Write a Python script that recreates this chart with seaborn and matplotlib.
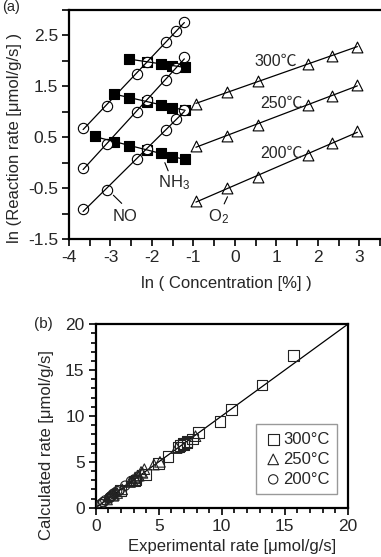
import numpy as np
import pandas as pd
import matplotlib
matplotlib.use("Agg")
import matplotlib.pyplot as plt
from matplotlib.ticker import MultipleLocator, FixedLocator
import seaborn as sns

# ---------------- data: panel (a) ----------------
ln_no = [-3.66, -3.09, -2.35, -2.11, -1.67, -1.43, -1.22]
no_300 = [0.68, 1.12, 1.75, 1.98, 2.38, 2.58, 2.76]
no_250 = [-0.11, 0.37, 1.00, 1.23, 1.63, 1.86, 2.07]
no_200 = [-0.92, -0.53, 0.08, 0.26, 0.64, 0.85, 1.03]

ln_nh3 = [-3.37, -2.91, -2.55, -2.13, -1.78, -1.51, -1.20]
nh3_300 = [None, None, 2.04, 1.98, 1.94, 1.90, 1.88]
nh3_250 = [None, 1.35, 1.28, 1.20, 1.14, 1.07, 1.04]
nh3_200 = [0.53, 0.41, 0.32, 0.24, 0.19, 0.12, 0.07]

ln_o2 = [-0.94, -0.18, 0.56, 1.77, 2.33, 2.95]
o2_300 = [1.16, 1.38, 1.61, 1.94, 2.10, 2.28]
o2_250 = [0.33, 0.53, 0.74, 1.14, 1.31, 1.53]
o2_200 = [-0.75, -0.50, -0.28, 0.15, 0.38, 0.63]

temp_labels_a = ["300\u2103", "250\u2103", "200\u2103"]

# ---------------- data: panel (b) ----------------
exp_300 = [1.97, 3.06, 5.75, 7.24, 10.8, 13.2, 15.7, 7.7, 7.24, 6.96, 6.69, 6.55,
           3.19, 3.97, 5.0, 6.96, 8.17, 9.85]
calc_300 = [1.9, 2.9, 5.6, 7.1, 10.7, 13.4, 16.6, 7.5, 7.2, 7.0, 6.8, 6.6,
            3.0, 3.6, 4.8, 6.9, 8.2, 9.4]
exp_250 = [0.90, 1.45, 2.72, 3.42, 5.10, 6.42, 7.92, 3.86, 3.60, 3.32, 3.13, 2.92, 2.83,
           1.39, 1.70, 2.10, 3.13, 3.71, 4.62]
calc_250 = [0.9, 1.4, 2.8, 3.5, 5.0, 6.5, 7.8, 4.2, 3.9, 3.5, 3.3, 3.0, 2.9,
            1.3, 1.6, 2.0, 3.2, 3.8, 4.7]
exp_200 = [0.40, 0.59, 1.08, 1.30, 1.90, 2.34, 2.80, 1.70, 1.51, 1.38, 1.27, 1.21, 1.13, 1.07,
           0.47, 0.61, 0.76, 1.16, 1.46, 1.88]
calc_200 = [0.4, 0.6, 1.1, 1.3, 1.9, 2.4, 2.9, 1.8, 1.6, 1.5, 1.3, 1.2, 1.1, 1.0,
            0.4, 0.6, 0.8, 1.2, 1.5, 1.9]
temp_labels_b = ["300°C", "250°C", "200°C"]

# ---------------- style ----------------
sns.set_style("ticks")
plt.rcParams["font.family"] = ["Liberation Sans", "Noto Sans CJK JP", "DejaVu Sans"]
plt.rcParams["axes.unicode_minus"] = False
plt.rcParams["mathtext.fontset"] = "custom"
plt.rcParams["mathtext.rm"] = "Liberation Sans"
plt.rcParams["mathtext.it"] = "Liberation Sans"

W, H = 381, 557
fig = plt.figure(figsize=(W / 100, H / 100), dpi=100)

ax_a = fig.add_axes([69 / W, 1 - 239 / H, (W - 69) / W, (239 - 10) / H])
ax_b = fig.add_axes([95.7 / W, 1 - 507.7 / H, 252 / W, 183.4 / H])

TICK_FS = 12.5
LAB_FS = 12
LW_SPINE = 1.6
MS = 55

def series_df(x, y):
    return pd.DataFrame({"x": x, "y": y}).dropna()

# ----- panel (a) -----
nh3_sets = [nh3_300, nh3_250, nh3_200]
no_sets = [no_300, no_250, no_200]
o2_sets = [o2_300, o2_250, o2_200]

for ys in nh3_sets:
    d = series_df(ln_nh3, ys)
    sns.scatterplot(data=d, x="x", y="y", ax=ax_a, marker="s", s=MS * 0.9,
                    color="black", edgecolor="black", linewidth=0.8, zorder=3)
for ys in no_sets:
    d = series_df(ln_no, ys)
    sns.scatterplot(data=d, x="x", y="y", ax=ax_a, marker="o", s=MS,
                    facecolors="white", edgecolor="black", linewidth=0.8, zorder=4)
for ys in o2_sets:
    d = series_df(ln_o2, ys)
    sns.scatterplot(data=d, x="x", y="y", ax=ax_a, marker="^", s=MS * 1.1,
                    facecolors="white", edgecolor="black", linewidth=0.8, zorder=4)

for xs, sets in [(ln_nh3, nh3_sets), (ln_no, no_sets), (ln_o2, o2_sets)]:
    for ys in sets:
        d = series_df(xs, ys)
        sns.regplot(data=d, x="x", y="y", ax=ax_a, scatter=False, ci=None,
                    truncate=True, line_kws=dict(color="black", lw=0.9, zorder=5))

ax_a.set_xlim(-4, 3.52)
ax_a.set_ylim(-1.5, 3.0)
ax_a.xaxis.set_major_locator(FixedLocator([-4, -3, -2, -1, 0, 1, 2, 3]))
ax_a.xaxis.set_minor_locator(FixedLocator([-3.5, -2.5, -1.5, -0.5, 0.5, 1.5, 2.5, 3.5]))
ax_a.yaxis.set_major_locator(FixedLocator([-1.5, -0.5, 0.5, 1.5, 2.5]))
ax_a.yaxis.set_minor_locator(FixedLocator([-1.0, 0.0, 1.0, 2.0, 3.0]))
ax_a.set_yticklabels(["-1.5", "-0.5", "0.5", "1.5", "2.5"])
ax_a.tick_params(which="both", direction="out", length=5, width=1.2, labelsize=TICK_FS,
                 color="black", pad=3)
for s in ["left", "bottom", "top"]:
    ax_a.spines[s].set_linewidth(LW_SPINE)
    ax_a.spines[s].set_color("black")
ax_a.spines["right"].set_visible(False)
ax_a.set_xlabel("ln ( Concentration [%] )", fontsize=LAB_FS)
ax_a.set_ylabel("ln (Reaction rate [μmol/g/s] )", fontsize=LAB_FS)
ax_a.xaxis.set_label_coords(0.505, -0.163)
ax_a.yaxis.set_label_coords(-0.151, 0.44)

# temperature labels
for lab, (tx, ty) in zip(temp_labels_a, [(0.98, 2.0), (1.12, 1.17), (1.12, 0.185)]):
    ax_a.text(tx, ty, lab, fontsize=11.5, ha="center", va="center", zorder=6)

# species labels with leader lines
ax_a.plot([-2.93, -2.73], [-0.64, -0.80], color="black", lw=0.8)
ax_a.text(-2.66, -1.06, "NO", fontsize=12, ha="center", va="center")
ax_a.plot([-1.69, -1.61], [0.0, -0.16], color="black", lw=0.8)
ax_a.text(-1.47, -0.40, "NH$_3$", fontsize=12, ha="center", va="center")
ax_a.plot([-0.18, -0.26], [-0.67, -0.81], color="black", lw=0.8)
ax_a.text(-0.40, -1.07, "O$_2$", fontsize=12, ha="center", va="center")

fig.text(2 / W, 1 - 7 / H, "(a)", fontsize=10.5, ha="left", va="center")

# ----- panel (b) -----
markers_b = ["s", "^", "o"]
sizes_b = [58, 58, 45]
for xs, ys, lab, mk, sz in zip([exp_300, exp_250, exp_200], [calc_300, calc_250, calc_200],
                               temp_labels_b, markers_b, sizes_b):
    d = pd.DataFrame({"Experimental": xs, "Calculated": ys})
    sns.scatterplot(data=d, x="Experimental", y="Calculated", ax=ax_b, marker=mk, s=sz,
                    facecolors="none", edgecolor="#222222", linewidth=0.8, label=lab, zorder=3)

ax_b.axline((0, 0), slope=1, color="black", lw=0.9, zorder=2)
ax_b.set_xlim(0, 20)
ax_b.set_ylim(0, 20)
ax_b.xaxis.set_major_locator(MultipleLocator(5))
ax_b.yaxis.set_major_locator(MultipleLocator(5))
ax_b.xaxis.set_minor_locator(MultipleLocator(1))
ax_b.yaxis.set_minor_locator(MultipleLocator(1))
ax_b.tick_params(which="major", direction="out", length=5, width=1.2, labelsize=TICK_FS,
                 color="black", pad=3)
ax_b.tick_params(which="minor", direction="out", length=3.5, width=1.2, color="black")
for s in ax_b.spines.values():
    s.set_linewidth(LW_SPINE)
    s.set_color("black")
ax_b.set_xlabel("Experimental rate [μmol/g/s]", fontsize=LAB_FS)
ax_b.set_ylabel("Calculated rate [μmol/g/s]", fontsize=LAB_FS)
ax_b.xaxis.set_label_coords(0.541, -0.172)
ax_b.yaxis.set_label_coords(-0.166, 0.342)

leg = ax_b.legend(loc="upper left", bbox_to_anchor=(0.635, 0.455), fontsize=12,
                  frameon=True, fancybox=False, edgecolor="#999999", framealpha=1,
                  handletextpad=0.0, handlelength=1.2, borderpad=0.45, labelspacing=0.3,
                  borderaxespad=0)
leg.get_frame().set_linewidth(1.0)

fig.text(43 / W, 1 - 324 / H, "(b)", fontsize=11, ha="center", va="center")

fig.savefig("out.png", dpi=100)
